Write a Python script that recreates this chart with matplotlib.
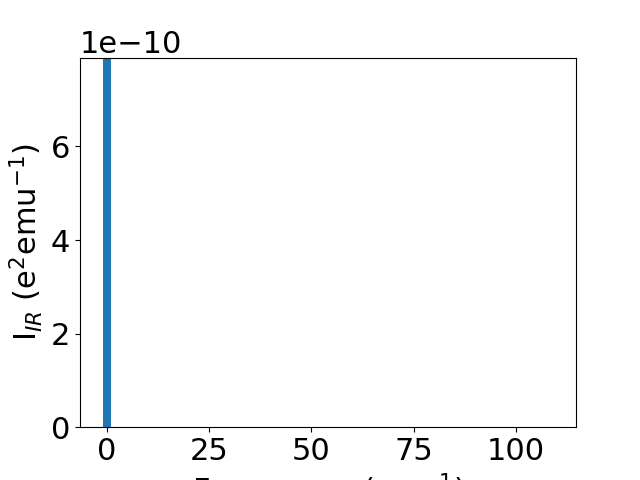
import matplotlib
matplotlib.use("Agg")
import matplotlib.pyplot as plt

# IR spectrum: frequencies (cm^-1) and intensities (e^2 emu^-1)
frequencies = [0.0, 108.2]
intensities = [7.9e-10, 1e-14]

plt.rcParams.update({"font.size": 22})

fig, ax = plt.subplots(figsize=(6.4, 4.8), dpi=100)
ax.bar(frequencies, intensities, width=2.0, color="#1f77b4")
ax.set_ylim(0, 7.9e-10)
ax.set_xlabel("Frequency (cm$^{-1}$)")
ax.set_ylabel("I$_{IR}$ (e$^2$emu$^{-1}$)")

fig.savefig("out.png", dpi=100)
